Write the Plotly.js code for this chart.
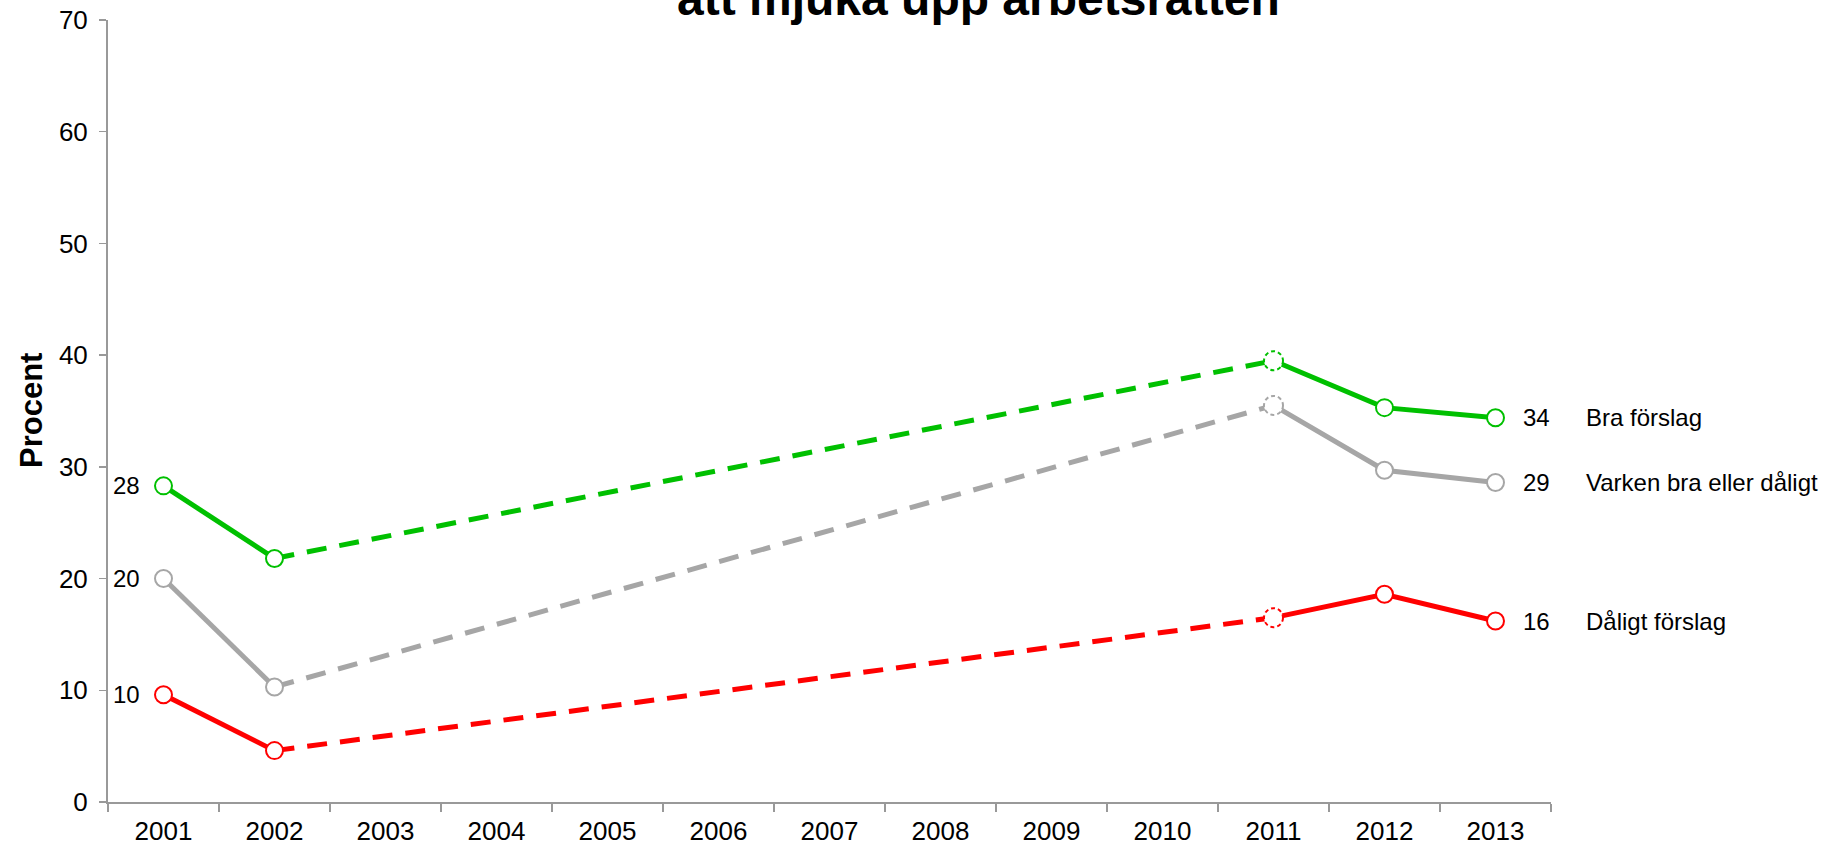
<!DOCTYPE html>
<html>
<head>
<meta charset="utf-8">
<script src="https://cdn.plot.ly/plotly-3.0.1.min.js"></script>
<style>html,body{margin:0;padding:0;background:#fff;}#chart{width:1827px;height:847px;}</style>
</head>
<body>
<div id="chart"></div>
<script>
const years = ['2001','2002','2003','2004','2005','2006','2007','2008','2009','2010','2011','2012','2013'];
const braForslag = [28.3, 21.8, null, null, null, null, null, null, null, null, 39.5, 35.3, 34.4];
const varken = [20.0, 10.3, null, null, null, null, null, null, null, null, 35.5, 29.7, 28.6];
const daligtForslag = [9.6, 4.6, null, null, null, null, null, null, null, null, 16.5, 18.6, 16.2];
const seriesNames = ['Bra förslag', 'Varken bra eller dåligt', 'Dåligt förslag'];
const seriesColors = ['#00c000', '#a6a6a6', '#ff0000'];
const titleText = 'att mjuka upp arbetsrätten';
const yTitle = 'Procent';

const allSeries = [braForslag, varken, daligtForslag];
const FONT = 'Liberation Sans, Arial, sans-serif';

const traces = [];
const shapes = [];
const annotations = [];

allSeries.forEach((vals, s) => {
  const color = seriesColors[s];
  let lastBefore = -1, firstAfter = -1;
  for (let i = 0; i < vals.length - 1; i++) {
    if (vals[i] !== null && vals[i + 1] === null && lastBefore < 0) lastBefore = i;
    if (vals[i] === null && vals[i + 1] !== null) firstAfter = i + 1;
  }
  // dashed bridge over the years without data
  traces.push({
    x: [years[lastBefore], years[firstAfter]],
    y: [vals[lastBefore], vals[firstAfter]],
    mode: 'lines', type: 'scatter', hoverinfo: 'skip', showlegend: false,
    line: {color: color, width: 5, dash: '20px,13px'}
  });
  // solid segments
  traces.push({
    x: years, y: vals, mode: 'lines', type: 'scatter', connectgaps: false,
    showlegend: false, name: seriesNames[s],
    line: {color: color, width: 5}
  });
  // markers with solid outline
  traces.push({
    x: years, y: vals.map((v, i) => i === firstAfter ? null : v),
    mode: 'markers', type: 'scatter', showlegend: false, name: seriesNames[s],
    marker: {symbol: 'circle', size: 17, color: '#ffffff', line: {color: color, width: 2}}
  });
  // dashed-outline marker at the first point after the gap
  shapes.push({
    type: 'circle', xref: 'x', yref: 'y', layer: 'above',
    xsizemode: 'pixel', ysizemode: 'pixel',
    xanchor: firstAfter, yanchor: vals[firstAfter],
    x0: -9.5, x1: 9.5, y0: -9.5, y1: 9.5,
    fillcolor: '#ffffff', line: {color: color, width: 2, dash: '4px,3px'}
  });
  // labels
  const first = vals.findIndex(v => v !== null);
  let last = vals.length - 1;
  while (vals[last] === null) last--;
  annotations.push({
    x: first, y: vals[first], xref: 'x', yref: 'y', showarrow: false,
    text: String(Math.round(vals[first])), xanchor: 'right', yanchor: 'middle',
    xshift: -22, font: {family: FONT, size: 24, color: '#000'}
  });
  annotations.push({
    x: last, y: vals[last], xref: 'x', yref: 'y', showarrow: false,
    text: String(Math.round(vals[last])), xanchor: 'left', yanchor: 'middle',
    xshift: 25, font: {family: FONT, size: 24, color: '#000'}
  });
  annotations.push({
    x: last, y: vals[last], xref: 'x', yref: 'y', showarrow: false,
    text: seriesNames[s], xanchor: 'left', yanchor: 'middle',
    xshift: 88, font: {family: FONT, size: 24, color: '#000'}
  });
});

annotations.push({
  x: 0.6036, y: 1.027, xref: 'paper', yref: 'paper', showarrow: false,
  text: '<b>' + titleText + '</b>', xanchor: 'center', yanchor: 'middle',
  font: {family: FONT, size: 48, color: '#000'}
});
annotations.push({
  x: 0, y: 0.5, xref: 'paper', yref: 'paper', showarrow: false,
  text: '<b>' + yTitle + '</b>', textangle: -90, xanchor: 'center', yanchor: 'middle',
  xshift: -77, font: {family: FONT, size: 31, color: '#000'}
});

const layout = {
  width: 1827, height: 847,
  margin: {l: 108, r: 276, t: 20, b: 45, pad: 0},
  paper_bgcolor: '#fff', plot_bgcolor: '#fff',
  showlegend: false,
  font: {family: FONT, size: 24, color: '#000'},
  xaxis: {
    type: 'category', categoryorder: 'array', categoryarray: years,
    range: [-0.5, years.length - 0.5],
    showline: true, linecolor: '#999999', linewidth: 2,
    ticks: 'outside', tickson: 'boundaries', ticklen: 8, tickcolor: '#999999', tickwidth: 1.5,
    showgrid: false, zeroline: false, ticklabelstandoff: 5,
    tickfont: {family: FONT, size: 26, color: '#000'}
  },
  yaxis: {
    range: [0, 70], dtick: 10, tick0: 0,
    showline: true, linecolor: '#999999', linewidth: 2,
    ticks: 'outside', ticklen: 7, tickcolor: '#999999', tickwidth: 1.5,
    showgrid: false, zeroline: false, ticklabelstandoff: 6,
    tickfont: {family: FONT, size: 26, color: '#000'}
  },
  shapes: shapes,
  annotations: annotations
};

Plotly.newPlot('chart', traces, layout, {displayModeBar: false, staticPlot: true});
</script>
</body>
</html>
